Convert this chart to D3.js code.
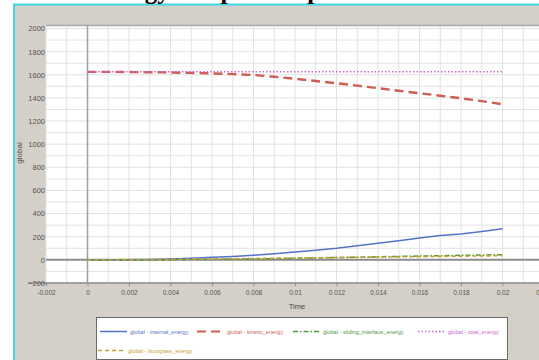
<!DOCTYPE html>
<html>
<head>
<meta charset="utf-8">
<script src="https://cdn.jsdelivr.net/npm/d3@7"></script>
<style>
  html, body { margin: 0; padding: 0; background: #fff; }
  #chart { width: 539px; height: 360px; overflow: hidden; }
</style>
</head>
<body>
<div id="chart"></div>
<script>
// values
const time = [0, 0.001, 0.002, 0.003, 0.004, 0.005, 0.006, 0.007, 0.008, 0.009, 0.01,
  0.011, 0.012, 0.013, 0.014, 0.015, 0.016, 0.017, 0.018, 0.019, 0.02];
const internalEnergy = [0, 0, 2, 4, 7, 13, 22, 30, 40, 53, 68, 84, 100, 121, 143, 165, 190, 210, 224, 245, 268];
const kineticEnergy = [1625, 1625, 1624, 1622, 1620, 1616, 1612, 1606, 1598, 1583, 1565,
  1546, 1527, 1506, 1484, 1462, 1440, 1419, 1397, 1372, 1345];
const slidingEnergy = [0, 0, 0, 1, 2, 3, 5, 7, 9, 11, 14, 17, 20, 23, 27, 30, 33, 36, 39, 42, 45];
const totalEnergy = [1626, 1626, 1626, 1626, 1626, 1626, 1626, 1626, 1626, 1626, 1626,
  1626, 1626, 1626, 1626, 1626, 1626, 1626, 1626, 1626, 1626];
const hourglassEnergy = [0, 1, 2, 3, 5, 6, 8, 10, 12, 14, 16, 18, 20, 22, 24, 26, 28, 30, 32, 34, 36];

const xTicks = [-0.002, 0, 0.002, 0.004, 0.006, 0.008, 0.01, 0.012, 0.014, 0.016, 0.018, 0.02, 0.022];
const xTickLabels = ['-0.002', '0', '0.002', '0.004', '0.006', '0.008', '0.01', '0.012', '0.014', '0.016', '0.018', '0.02', '0.022'];
const yTicks = [-200, 0, 200, 400, 600, 800, 1000, 1200, 1400, 1600, 1800, 2000];
const seriesNames = ['global - internal_energy', 'global - kinetic_energy', 'global - sliding_interface_energy',
  'global - total_energy', 'global - hourglass_energy'];

const W = 539, H = 360;
const plot = { left: 46, top: 26, bottom: 283 };
const sans = '"Liberation Sans", Arial, sans-serif';

const svg = d3.select('#chart').append('svg')
  .attr('width', W)
  .attr('height', H);

// window frame
svg.append('rect').attr('x', 0).attr('y', 0).attr('width', W).attr('height', H).attr('fill', '#fff');
svg.append('rect').attr('x', 14).attr('y', 5).attr('width', W).attr('height', H).attr('fill', '#d4d0c8');
svg.append('line').attr('x1', 13).attr('x2', W).attr('y1', 4.5).attr('y2', 4.5)
  .attr('stroke', '#3ed6e6').attr('stroke-width', 2);
svg.append('line').attr('x1', 14).attr('x2', 14).attr('y1', 4).attr('y2', H)
  .attr('stroke', '#3ed6e6').attr('stroke-width', 2);

// title, mostly cut off by the top edge
svg.append('text')
  .attr('x', 92)
  .attr('y', -1)
  .style('font-family', '"Liberation Serif", "DejaVu Serif", serif')
  .style('font-weight', 'bold')
  .style('font-size', '25px')
  .attr('fill', '#000')
  .text('Energy comparison plot');

const x = d3.scaleLinear().domain([-0.002, 0.024]).range([plot.left, plot.left + 41.5 * 13]);
const y = d3.scaleLinear().domain([-200, 2000]).range([plot.bottom, 28.5]);

svg.append('rect')
  .attr('x', plot.left).attr('y', plot.top)
  .attr('width', W - plot.left).attr('height', plot.bottom - plot.top)
  .attr('fill', '#fff');

// grid, every half tick
const xGrid = d3.range(-0.002, 0.0235, 0.001);
const yGrid = d3.range(-200, 2001, 100);
svg.append('g').selectAll('line').data(xGrid).enter().append('line')
  .attr('x1', d => x(d)).attr('x2', d => x(d))
  .attr('y1', plot.top).attr('y2', plot.bottom)
  .attr('stroke', '#e2e2e2').attr('stroke-width', 1);
svg.append('g').selectAll('line').data(yGrid).enter().append('line')
  .attr('x1', plot.left).attr('x2', W)
  .attr('y1', d => y(d)).attr('y2', d => y(d))
  .attr('stroke', '#e2e2e2').attr('stroke-width', 1);

// frame lines and zero axes
svg.append('line').attr('x1', plot.left).attr('x2', W).attr('y1', plot.top - 0.5).attr('y2', plot.top - 0.5)
  .attr('stroke', '#a8a8a8').attr('stroke-width', 1.5);
svg.append('line').attr('x1', 28).attr('x2', W).attr('y1', plot.bottom).attr('y2', plot.bottom)
  .attr('stroke', '#8a8a8a').attr('stroke-width', 1.5);
svg.append('line').attr('x1', x(0)).attr('x2', x(0)).attr('y1', plot.top).attr('y2', plot.bottom)
  .attr('stroke', '#a0a0a0').attr('stroke-width', 1.5);
svg.append('line').attr('x1', plot.left).attr('x2', W).attr('y1', y(0)).attr('y2', y(0))
  .attr('stroke', '#8c8c8c').attr('stroke-width', 2);

// axes
const xAxis = svg.append('g')
  .attr('transform', `translate(0,${plot.bottom})`)
  .call(d3.axisBottom(x).tickValues(xTicks).tickFormat((d, i) => xTickLabels[i]).tickSize(3).tickPadding(4));
xAxis.select('.domain').remove();
xAxis.selectAll('line').attr('stroke', '#8a8a8a');
xAxis.selectAll('text')
  .style('font-family', sans)
  .style('font-size', '6.5px')
  .attr('fill', '#555');

const yAxis = svg.append('g')
  .attr('transform', `translate(${plot.left},0)`)
  .call(d3.axisLeft(y).tickValues(yTicks).tickFormat(d3.format('d')).tickSize(0).tickPadding(1));
yAxis.select('.domain').remove();
yAxis.selectAll('text')
  .style('font-family', sans)
  .style('font-size', '7.5px')
  .attr('fill', '#555');

svg.append('text')
  .attr('x', 297).attr('y', 309)
  .attr('text-anchor', 'middle')
  .style('font-family', sans)
  .style('font-size', '7.5px')
  .attr('fill', '#4a4a4a')
  .text('Time');

svg.append('text')
  .attr('transform', 'translate(22,153) rotate(-90)')
  .attr('text-anchor', 'middle')
  .style('font-family', sans)
  .style('font-size', '8px')
  .attr('fill', '#4a4a4a')
  .text('global');

// series
const series = [
  { name: seriesNames[0], values: internalEnergy, color: '#5273c8', dash: null, width: 1.5 },
  { name: seriesNames[2], values: slidingEnergy, color: '#4f9a3c', dash: '5,2,1.5,2', width: 1.5 },
  { name: seriesNames[4], values: hourglassEnergy, color: '#c9a032', dash: '4,3', width: 1.6 },
  { name: seriesNames[1], values: kineticEnergy, color: '#cc5e54', dash: '9,5', width: 2.4 },
  { name: seriesNames[3], values: totalEnergy, color: '#cc66cc', dash: '1.5,2', width: 1.3 }
];

const line = d3.line()
  .x((d, i) => x(time[i]))
  .y(d => y(d));

svg.append('g').selectAll('path').data(series).enter().append('path')
  .attr('d', d => line(d.values))
  .attr('fill', 'none')
  .attr('stroke', d => d.color)
  .attr('stroke-width', d => d.width)
  .attr('stroke-dasharray', d => d.dash);

// legend
const legend = svg.append('g');
legend.append('rect')
  .attr('x', 96.5).attr('y', 317.5).attr('width', 411).attr('height', 42)
  .attr('fill', '#fff').attr('stroke', '#6a6a6a').attr('stroke-width', 1);

const legendOrder = [
  { s: series[0], x: 100, y: 331.5 },
  { s: series[3], x: 197, y: 331.5 },
  { s: series[1], x: 293, y: 331.5 },
  { s: series[4], x: 418, y: 331.5 },
  { s: series[2], x: 98, y: 350.5 }
];

const items = legend.selectAll('g.item').data(legendOrder).enter().append('g')
  .attr('class', 'item')
  .attr('transform', d => `translate(${d.x},${d.y})`);
items.append('line')
  .attr('x1', 0).attr('x2', 27).attr('y1', 0).attr('y2', 0)
  .attr('stroke', d => d.s.color)
  .attr('stroke-width', d => Math.min(d.s.width, 2))
  .attr('stroke-dasharray', d => d.s.dash);
items.append('text')
  .attr('x', 30).attr('y', 2)
  .style('font-family', sans)
  .style('font-size', '5.6px')
  .attr('fill', d => d.s.color)
  .text(d => d.s.name);
</script>
</body>
</html>
